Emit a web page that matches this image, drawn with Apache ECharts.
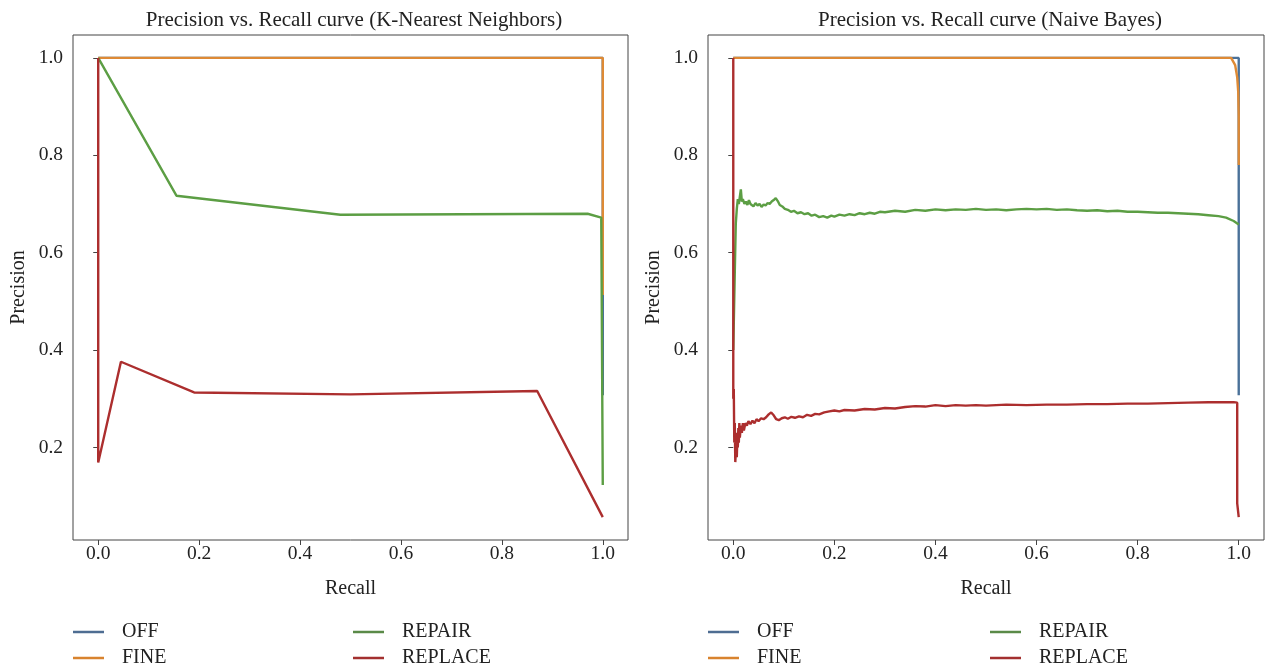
<!DOCTYPE html>
<html>
<head>
<meta charset="utf-8">
<script src="https://cdn.jsdelivr.net/npm/echarts@6/dist/echarts.min.js"></script>
<style>html,body{margin:0;padding:0;background:#fff}#c{width:1266px;height:671px}</style>
</head>
<body>
<div id="c"></div>
<script>
const titles = ['Precision vs. Recall curve (K-Nearest Neighbors)', 'Precision vs. Recall curve (Naive Bayes)'];
const seriesNames = ['OFF', 'FINE', 'REPAIR', 'REPLACE'];
const xTicks = [0, 0.2, 0.4, 0.6, 0.8, 1.0];
const yTicks = [0.2, 0.4, 0.6, 0.8, 1.0];

// K-Nearest Neighbors: [recall, precision]
const knnOff = [[0, 1.0], [1.0, 1.0], [1.0, 0.307]];
const knnFine = [[0, 1.0], [1.0, 1.0], [1.0, 0.513]];
const knnRepair = [[0, 1.0], [0.155, 0.717], [0.48, 0.678], [0.97, 0.680], [0.997, 0.672], [1.0, 0.123]];
const knnReplace = [[0, 1.0], [0, 0.169], [0.045, 0.376], [0.19, 0.313], [0.5, 0.309], [0.87, 0.316], [1.0, 0.057]];

// Naive Bayes: [recall, precision]
const nbOff = [[0, 1.0], [1.0, 1.0], [1.0, 0.307]];
const nbFine = [[0, 1.0], [0.985, 1.0], [0.993, 0.985], [0.997, 0.96], [0.999, 0.93], [1.0, 0.88], [1.0, 0.78]];
const nbRepair = [[0.000,0.40],[0.003,0.56],[0.005,0.66],[0.007,0.69],[0.009,0.71],[0.011,0.70],[0.013,0.715],[0.015,0.73],[0.017,0.705],[0.019,0.71],[0.022,0.70],[0.025,0.705],[0.028,0.698],[0.031,0.708],[0.034,0.70],[0.037,0.703],[0.040,0.695],[0.044,0.702],[0.048,0.697],[0.052,0.70],[0.056,0.694],[0.060,0.699],[0.064,0.697],[0.068,0.702],[0.072,0.70],[0.076,0.705],[0.080,0.708],[0.084,0.712],[0.088,0.706],[0.092,0.698],[0.097,0.695],[0.102,0.69],[0.108,0.688],[0.114,0.684],[0.120,0.686],[0.127,0.681],[0.134,0.683],[0.141,0.679],[0.148,0.681],[0.155,0.676],[0.162,0.678],[0.170,0.673],[0.178,0.675],[0.186,0.672],[0.194,0.676],[0.20,0.674],[0.21,0.678],[0.22,0.676],[0.23,0.679],[0.24,0.677],[0.25,0.681],[0.26,0.679],[0.27,0.682],[0.28,0.680],[0.29,0.684],[0.30,0.683],[0.32,0.686],[0.34,0.684],[0.36,0.688],[0.38,0.686],[0.40,0.689],[0.42,0.687],[0.44,0.689],[0.46,0.688],[0.48,0.690],[0.50,0.688],[0.52,0.689],[0.54,0.687],[0.56,0.689],[0.58,0.690],[0.60,0.689],[0.62,0.690],[0.64,0.688],[0.66,0.689],[0.68,0.687],[0.70,0.686],[0.72,0.687],[0.74,0.685],[0.76,0.686],[0.78,0.684],[0.80,0.684],[0.82,0.683],[0.84,0.682],[0.86,0.682],[0.88,0.681],[0.90,0.680],[0.92,0.679],[0.94,0.677],[0.96,0.675],[0.975,0.672],[0.99,0.665],[1.0,0.658]];
const nbReplace = [[0,1.0],[0,0.30],[0.001,0.32],[0.002,0.21],[0.003,0.25],[0.004,0.17],[0.005,0.19],[0.006,0.23],[0.007,0.18],[0.008,0.22],[0.009,0.20],[0.010,0.24],[0.011,0.21],[0.012,0.25],[0.013,0.22],[0.015,0.245],[0.017,0.23],[0.019,0.25],[0.021,0.235],[0.024,0.25],[0.027,0.245],[0.030,0.254],[0.034,0.248],[0.038,0.255],[0.042,0.250],[0.046,0.258],[0.050,0.254],[0.055,0.26],[0.060,0.258],[0.065,0.262],[0.070,0.268],[0.075,0.272],[0.080,0.266],[0.085,0.258],[0.090,0.256],[0.096,0.260],[0.102,0.262],[0.108,0.259],[0.115,0.263],[0.122,0.261],[0.130,0.264],[0.138,0.262],[0.146,0.267],[0.154,0.265],[0.162,0.269],[0.170,0.268],[0.18,0.272],[0.19,0.274],[0.20,0.276],[0.21,0.274],[0.22,0.277],[0.24,0.276],[0.26,0.279],[0.28,0.278],[0.30,0.281],[0.32,0.280],[0.34,0.283],[0.36,0.285],[0.38,0.284],[0.40,0.287],[0.42,0.285],[0.44,0.287],[0.46,0.286],[0.48,0.287],[0.50,0.286],[0.54,0.288],[0.58,0.287],[0.62,0.288],[0.66,0.288],[0.70,0.289],[0.74,0.289],[0.78,0.290],[0.82,0.290],[0.86,0.291],[0.90,0.292],[0.94,0.293],[0.97,0.293],[0.99,0.293],[0.997,0.292],[0.997,0.085],[1.0,0.057]];

const colors = {OFF: '#4a7199', FINE: '#de8a35', REPAIR: '#5c9e44', REPLACE: '#ac2e2e'};
const legendColors = {OFF: '#4e6d92', FINE: '#d8832e', REPAIR: '#5a8a48', REPLACE: '#a3302f'};
const FONT = 'Liberation Serif';
const TXT = '#222';

const grids = [
  {left: 73, top: 35, width: 555, height: 505},
  {left: 708, top: 35, width: 556, height: 505}
];

function xAxis(i) {
  return {
    type: 'value', gridIndex: i, min: -0.05, max: 1.05,
    name: 'Recall', nameLocation: 'middle', nameGap: 39,
    nameTextStyle: {fontFamily: FONT, fontSize: 20, color: TXT},
    axisLine: {show: false},
    splitLine: {show: false},
    axisTick: {show: true, length: 5, inside: false, lineStyle: {color: '#444'}, customValues: xTicks},
    axisLabel: {fontFamily: FONT, fontSize: 19.5, color: TXT, margin: 4, customValues: xTicks,
      formatter: v => v.toFixed(1)}
  };
}
function yAxis(i) {
  return {
    type: 'value', gridIndex: i, min: 0.01, max: 1.047,
    name: 'Precision', nameLocation: 'middle', nameGap: 44,
    nameTextStyle: {fontFamily: FONT, fontSize: 20, color: TXT},
    axisLine: {show: false},
    splitLine: {show: false},
    axisTick: {show: true, length: 5, inside: false, lineStyle: {color: '#444'}, customValues: yTicks},
    axisLabel: {fontFamily: FONT, fontSize: 19.5, color: TXT, margin: 10, customValues: yTicks,
      formatter: v => v.toFixed(1)}
  };
}

const dataSets = [[knnOff, knnFine, knnRepair, knnReplace], [nbOff, nbFine, nbRepair, nbReplace]];
const series = [];
dataSets.forEach((set, gi) => {
  set.forEach((d, si) => {
    const name = seriesNames[si];
    series.push({
      type: 'line', name: name, xAxisIndex: gi, yAxisIndex: gi, data: d,
      showSymbol: false, symbol: 'none', animation: false,
      lineStyle: {color: colors[name], width: 2.4},
      itemStyle: {color: legendColors[name]}
    });
  });
});

const legendPos = [
  {name: 'OFF', left: 73, top: 622}, {name: 'REPAIR', left: 353, top: 622},
  {name: 'FINE', left: 73, top: 648}, {name: 'REPLACE', left: 353, top: 648},
  {name: 'OFF', left: 708, top: 622}, {name: 'REPAIR', left: 990, top: 622},
  {name: 'FINE', left: 708, top: 648}, {name: 'REPLACE', left: 990, top: 648}
];
const legends = legendPos.map(p => ({
  data: [p.name], left: p.left, top: p.top, padding: 0,
  icon: 'rect', itemWidth: 31, itemHeight: 2.5, itemGap: 0,
  selectedMode: false,
  textStyle: {fontFamily: FONT, fontSize: 20, color: TXT, padding: [0, 0, 0, 13]}
}));

const option = {
  backgroundColor: '#fff',
  animation: false,
  title: [
    {text: titles[0], left: 349, top: 5, textAlign: 'center', textStyle: {fontFamily: FONT, fontSize: 21, fontWeight: 'normal', color: TXT}},
    {text: titles[1], left: 985, top: 5, textAlign: 'center', textStyle: {fontFamily: FONT, fontSize: 21, fontWeight: 'normal', color: TXT}}
  ],
  legend: legends,
  grid: grids.map(g => Object.assign({show: true, borderColor: '#444', borderWidth: 1, backgroundColor: 'transparent'}, g)),
  xAxis: [xAxis(0), xAxis(1)],
  yAxis: [yAxis(0), yAxis(1)],
  series: series
};
const chart = echarts.init(document.getElementById('c'), null, {renderer: 'canvas'});
chart.setOption(option);
</script>
</body>
</html>
